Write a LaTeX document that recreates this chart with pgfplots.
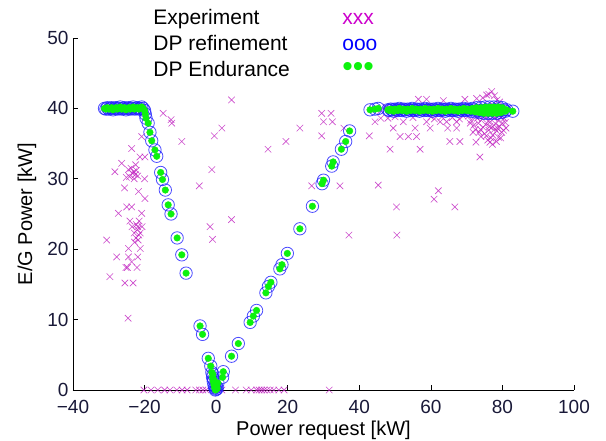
\documentclass[border=0pt]{standalone}
\usepackage{fontspec}
\setmainfont{Liberation Sans}
\usepackage{pgfplots}
\pgfplotsset{compat=1.18}
\usepackage{pgfplotstable}
\definecolor{expc}{rgb}{0.75,0.12,0.75}
\definecolor{expl}{rgb}{0.8,0,0.8}
\definecolor{dpblue}{rgb}{0.12,0.12,1}
\definecolor{dpgreen}{rgb}{0.05,0.95,0.05}
\definecolor{tickc}{rgb}{0.1,0.1,0.22}

\pgfplotstableread{
x y
-31.2 40.0
-30.8 39.9
-30.4 40.1
-30.0 39.9
-29.6 40.0
-29.2 40.1
-28.8 39.8
-28.4 40.0
-28.0 40.1
-27.6 39.9
-27.2 40.0
-26.8 40.2
-26.4 39.9
-26.0 40.0
-25.6 40.1
-25.2 39.8
-24.8 40.0
-24.4 40.1
-24.0 39.9
-23.6 40.0
-23.2 40.2
-22.8 39.9
-22.4 40.0
-22.0 40.1
-21.6 39.9
-21.2 40.0
-20.8 40.2
-20.4 40.0
-20.0 39.7
-19.8 39.2
-19.6 38.6
-19.0 37.9
-18.5 36.6
-18.0 35.4
-17.1 34.1
-16.6 33.2
-15.5 30.9
-15.0 29.9
-14.2 28.4
-13.4 26.3
-12.6 25.0
-10.9 21.6
-9.6 19.2
-8.4 16.6
-4.5 9.1
-3.8 7.9
-2.2 4.5
-1.5 3.4
-1.2 2.5
-1.0 1.8
-0.9 2.2
-0.8 1.2
-0.7 1.5
-0.6 0.7
-0.4 0.3
-0.3 0.5
-0.2 0.0
0.0 0.1
0.2 0.4
0.3 0.2
0.5 1.0
1.8 1.8
2.0 2.6
4.3 4.8
6.2 6.6
9.5 9.6
10.4 10.5
11.3 11.3
13.9 13.8
14.6 14.7
15.3 15.3
17.8 17.2
18.4 17.8
19.9 19.4
23.4 22.9
26.9 26.1
29.6 29.3
30.0 29.8
32.3 31.8
32.7 32.4
35.0 34.2
36.2 35.3
37.3 36.8
43.0 39.8
44.4 39.9
45.3 40.0
48.0 39.8
48.4 39.7
48.8 39.9
49.2 39.8
49.6 39.6
50.0 39.9
50.4 39.8
50.8 39.7
51.2 40.0
51.6 39.8
52.0 39.7
52.4 39.9
52.8 39.8
53.2 39.6
53.6 39.9
54.0 39.8
54.4 39.7
54.8 40.0
55.2 39.8
55.6 39.7
56.0 39.9
56.4 39.8
56.8 39.6
57.2 39.9
57.6 39.8
58.0 39.7
58.4 40.0
58.8 39.8
59.2 39.7
59.6 39.9
60.0 39.8
60.4 39.6
60.8 39.9
61.2 39.8
61.6 39.7
62.0 40.0
62.4 39.8
62.8 39.7
63.2 39.9
63.6 39.8
64.0 39.6
64.4 39.9
64.8 39.8
65.2 39.7
65.6 40.0
66.0 39.8
66.4 39.7
66.8 39.9
67.2 39.8
67.6 39.6
68.0 39.9
68.4 39.8
68.8 39.7
69.2 40.0
69.6 39.8
70.0 39.7
70.4 39.9
70.8 39.8
71.2 39.6
71.6 40.0
72.0 39.8
72.4 39.5
72.8 40.1
73.2 39.7
73.6 39.4
74.0 40.1
74.4 39.7
74.8 39.3
75.2 40.2
75.6 39.8
76.0 39.3
76.4 40.2
76.8 39.7
77.2 39.3
77.6 40.2
78.0 39.8
78.4 39.3
78.8 40.2
79.2 39.7
79.6 39.4
80.0 40.1
80.4 39.8
80.8 39.6
81.2 39.8
82.9 39.6
}\dptable

\pgfplotstableread{
x y
-14.8 39.3
-12.6 38.4
-12.4 37.9
-20.8 36.0
-23.6 34.3
-21.3 33.1
-19.9 33.1
-26.4 32.2
-28.3 31.0
-24.5 31.3
-23.8 31.5
-22.5 32.0
-24.2 30.3
-22.9 30.0
-25.6 28.7
-25.1 30.2
-21.9 30.4
-20.0 30.0
-23.0 31.0
-22.6 30.6
-23.4 30.8
-22.3 31.2
-21.7 28.2
-19.9 27.2
-25.0 26.0
-23.6 26.0
-27.3 25.1
-20.8 25.1
-24.1 24.0
-21.5 24.0
-23.5 23.2
-21.9 23.2
-20.7 23.2
-22.9 22.3
-21.2 22.3
-22.4 21.6
-22.8 21.0
-22.0 22.8
-21.6 22.0
-22.3 23.5
-21.8 21.3
-30.6 21.3
-24.5 20.1
-21.2 20.1
-27.8 18.9
-24.5 18.9
-21.9 18.9
-23.6 18.2
-24.8 17.4
-22.1 17.4
-25.2 17.4
-29.7 16.1
-25.5 15.2
-23.2 15.2
-24.6 10.2
4.3 41.2
1.6 37.2
-0.5 36.1
-9.6 35.3
14.5 34.2
-1.2 31.3
-4.7 29.0
4.3 24.2
-1.7 23.2
-1.0 21.4
29.5 39.3
32.1 39.3
30.0 38.1
32.5 38.1
23.4 37.2
19.5 35.3
29.5 36.1
35.7 37.2
42.8 36.1
26.7 29.0
34.6 29.0
37.1 22.0
56.5 41.3
58.8 41.3
63.5 41.1
69.5 41.3
72.8 41.4
75.6 41.9
77.0 42.4
76.2 42.0
77.8 41.8
78.5 41.2
74.5 41.5
79.2 40.9
46.0 39.7
47.5 40.2
49.0 39.6
50.5 40.3
52.0 39.8
53.5 40.2
55.0 39.6
56.5 40.1
58.0 39.7
59.5 40.3
61.0 39.8
62.5 40.2
64.0 39.6
65.5 40.1
67.0 39.7
68.5 40.3
70.0 39.8
71.5 40.2
73.0 39.6
74.5 40.1
76.0 39.8
77.5 40.4
79.0 39.7
80.5 40.1
81.5 39.8
44.4 38.1
52.3 38.1
49.5 37.2
51.4 36.0
53.7 36.0
56.0 36.0
55.6 37.2
58.8 38.1
59.8 37.2
62.6 38.1
64.4 38.1
67.2 38.1
64.7 37.2
67.2 37.2
65.3 35.3
68.1 35.3
48.6 34.2
57.0 34.2
72.6 35.2
76.5 35.2
73.7 33.1
45.3 29.1
62.1 28.3
60.9 27.1
50.4 26.0
66.7 26.0
50.5 22.0
46.0 38.6
48.0 38.6
50.0 38.8
55.0 38.7
60.0 38.8
61.0 38.5
63.0 38.8
66.0 38.7
68.0 38.5
69.0 38.9
70.5 38.9
71.2 38.3
72.0 37.6
72.6 38.8
73.3 37.9
73.9 37.0
74.4 38.5
75.0 36.4
75.3 37.7
75.8 38.9
76.2 36.9
76.6 38.1
77.0 37.3
77.3 36.2
77.7 38.6
78.1 37.8
78.4 36.8
78.8 38.3
79.2 37.4
79.6 38.8
80.0 37.9
80.3 36.9
74.0 36.0
76.8 35.8
78.9 35.9
71.8 36.6
73.0 38.6
74.8 39.0
76.0 38.2
77.5 38.9
79.0 39.0
80.5 38.6
75.5 36.1
77.9 37.1
79.8 36.6
72.4 37.0
74.6 37.3
76.4 37.4
78.6 37.2
80.8 38.0
71.0 37.9
73.5 36.6
75.9 35.5
77.2 34.9
78.3 35.3
79.5 35.8
81.0 37.2
-20.2 0
-18.2 0
-16.3 0
-14.4 0
-12.9 0
-11.0 0
-9.5 0
-8.1 0
-5.7 0
-4.7 0
-3.7 0
-2.8 0
1.6 0
5.4 0
8.4 0
9.8 0
11.3 0
12.0 0
12.7 0
13.4 0
14.2 0
15.1 0
16.1 0
17.5 0
19.0 0
31.6 0
}\exptable

\begin{document}
\begin{tikzpicture}
\useasboundingbox (-73pt,-51pt) rectangle (533pt,390pt);
\begin{axis}[
  at={(0,0)}, anchor=south west,
  scale only axis, width=501pt, height=352pt,
  xmin=-40, xmax=100, ymin=0, ymax=50,
  axis x line*=bottom, axis y line*=left,
  axis line style={-, line width=0.6pt, black},
  xtick={-40,-20,...,100},
  xticklabels={−40,−20,0,20,40,60,80,100},
  ytick={0,10,...,50},
  yticklabels={0,10,20,30,40,50},
  tick align=inside, major tick length=5pt,
  tick style={line width=0.6pt, black},
  ticklabel style={font=\fontsize{19}{22}\selectfont, text=tickc},
  xticklabel style={yshift=-7pt},
  yticklabel style={xshift=-1pt},
  xlabel={Power request [kW]},
  ylabel={E/G Power [kW]},
  label style={font=\fontsize{20}{24}\selectfont},
  xlabel style={at={(axis description cs:0.5,0)}, anchor=north, inner sep=0pt, yshift=-31pt},
  ylabel style={at={(axis description cs:0,0.5)}, anchor=center, inner sep=0pt, yshift=46pt},
  clip=false,
  legend plot pos=right,
  legend cell align=left,
  legend style={draw=none, fill=none, at={(axis description cs:0.16,1)}, anchor=north west,
    yshift=28.5pt, inner sep=0pt, row sep=6pt, column sep=0pt,
    font=\fontsize{21}{24}\selectfont,
    nodes={inner sep=0pt, text height=15pt, text depth=5pt}},
]
\addplot[only marks, mark=x, mark size=4.6pt, color=expc, opacity=0.8, mark options={line width=0.6pt},
  legend image code/.code={\path (0pt,0pt); \node[anchor=west, inner sep=0pt, text height=15pt, text depth=5pt, text=expl, opacity=1] at (52pt,0pt) {xxx};}]
  table[x=x, y=y] {\exptable};
\addlegendentry{Experiment}
\addplot[only marks, mark=o, mark size=6.2pt, color=dpblue, opacity=0.8, mark options={line width=0.8pt},
  legend image code/.code={\path (0pt,0pt); \node[anchor=west, inner sep=0pt, text height=15pt, text depth=5pt, text=blue, opacity=1] at (52pt,0pt) {ooo};}]
  table[x=x, y=y] {\dptable};
\addlegendentry{DP refinement}
\addplot[only marks, mark=*, mark size=3.3pt, color=dpgreen, mark options={draw=dpgreen, fill=dpgreen},
  legend image code/.code={\path (0pt,0pt); \node[anchor=west, inner sep=0pt, text height=15pt, text depth=5pt, text=dpgreen, opacity=1, font=\fontsize{30}{30}\selectfont] at (52pt,0pt) {•••};}]
  table[x=x, y=y] {\dptable};
\addlegendentry{DP Endurance}
\end{axis}
\end{tikzpicture}
\end{document}
